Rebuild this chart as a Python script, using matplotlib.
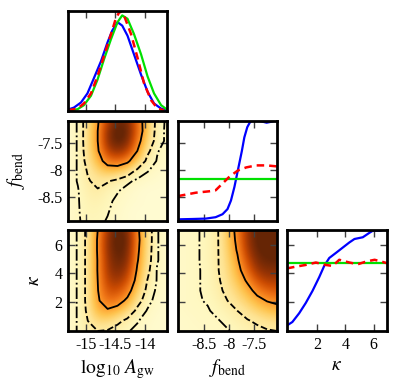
import numpy as np
import matplotlib
matplotlib.use("Agg")
import matplotlib.pyplot as plt

plt.rcParams['font.family'] = 'serif'
plt.rcParams['font.serif'] = ['Liberation Serif', 'DejaVu Serif']
plt.rcParams['mathtext.fontset'] = 'stix'
plt.rcParams['axes.unicode_minus'] = False

# axis ranges and ticks
agw_lim = [-15.3, -13.62]
fb_xlim = [-9.03, -7.03]
fb_ylim = [-8.95, -7.1]
kap_xlim = [-0.15, 6.95]
kap_ylim = [-0.05, 7.05]
agw_ticks = [-15, -14.5, -14]
agw_labels = ['-15', '-14.5', '-14']
fb_ticks = [-8.5, -8, -7.5]
fb_labels = ['-8.5', '-8', '-7.5']
kap_ticks = [2, 4, 6]
kap_labels = ['2', '4', '6']

# 1D marginal of log10 A_gw (x in dex, height as fraction of panel)
agw_blue_x = [-15.30, -15.20, -15.08, -14.97, -14.86, -14.74, -14.63, -14.55, -14.46, -14.38, -14.29, -14.18, -14.06, -13.95, -13.84, -13.72, -13.62]
agw_blue_y = [0.014, 0.034, 0.085, 0.176, 0.329, 0.498, 0.685, 0.803, 0.888, 0.854, 0.753, 0.566, 0.363, 0.193, 0.075, 0.024, 0.007]
agw_green_x = [-15.30, -15.14, -15.03, -14.91, -14.80, -14.69, -14.57, -14.46, -14.38, -14.29, -14.18, -14.06, -13.95, -13.84, -13.72, -13.62]
agw_green_y = [0.007, 0.017, 0.058, 0.153, 0.312, 0.515, 0.719, 0.888, 0.956, 0.922, 0.769, 0.566, 0.346, 0.176, 0.058, 0.014]
agw_red_x = [-15.30, -15.14, -15.03, -14.91, -14.80, -14.69, -14.57, -14.49, -14.42, -14.35, -14.23, -14.12, -14.01, -13.89, -13.78, -13.67]
agw_red_y = [0.007, 0.024, 0.075, 0.176, 0.346, 0.549, 0.769, 0.922, 1.0, 0.956, 0.769, 0.532, 0.278, 0.108, 0.024, 0.007]

# f_bend panel
fb_blue_x = [-9.0, -8.74, -8.47, -8.27, -8.13, -8.03, -7.96, -7.89, -7.84, -7.79, -7.74, -7.69, -7.63, -7.57, -7.48, -7.35, -7.24, -7.14, -7.03]
fb_blue_y = [0.017, 0.020, 0.024, 0.038, 0.068, 0.119, 0.205, 0.341, 0.461, 0.580, 0.700, 0.836, 0.939, 0.993, 1.01, 0.997, 0.983, 0.993, 1.01]
fb_red_x = [-9.03, -8.67, -8.40, -8.27, -8.13, -7.99, -7.82, -7.65, -7.45, -7.24, -7.03]
fb_red_y = [0.249, 0.283, 0.297, 0.307, 0.375, 0.444, 0.505, 0.536, 0.556, 0.556, 0.546]
fb_green_x = [-9.03, -7.03]
fb_green_y = [0.423, 0.423]

# kappa panel
kap_blue_x = [-0.15, 0.23, 0.71, 1.18, 1.66, 2.14, 2.49, 2.85, 3.33, 3.80, 4.28, 4.64, 5.23, 5.71, 5.95, 6.42, 6.95]
kap_blue_y = [0.055, 0.089, 0.175, 0.277, 0.397, 0.534, 0.644, 0.723, 0.774, 0.825, 0.877, 0.911, 0.928, 0.973, 0.993, 0.993, 1.01]
kap_red_x = [-0.15, 0.47, 1.18, 1.90, 2.61, 3.09, 3.56, 4.28, 4.88, 5.47, 6.07, 6.55, 6.95]
kap_red_y = [0.620, 0.637, 0.654, 0.678, 0.654, 0.644, 0.705, 0.678, 0.661, 0.688, 0.705, 0.688, 0.671]
kap_green_x = [-0.15, 6.95]
kap_green_y = [0.671, 0.671]

# 2D densities on 11x11 nodes spanning each panel, rows listed top to bottom
dens_agw_fb = [
    [0.03, 0.07, 0.22, 0.42, 0.75, 0.92, 0.90, 0.60, 0.30, 0.11, 0.05],
    [0.03, 0.07, 0.22, 0.45, 0.85, 1.00, 0.95, 0.62, 0.30, 0.10, 0.05],
    [0.03, 0.07, 0.22, 0.45, 0.85, 0.98, 0.90, 0.55, 0.25, 0.10, 0.05],
    [0.03, 0.07, 0.21, 0.42, 0.75, 0.85, 0.75, 0.45, 0.18, 0.07, 0.04],
    [0.03, 0.07, 0.19, 0.35, 0.55, 0.60, 0.50, 0.28, 0.12, 0.06, 0.03],
    [0.03, 0.07, 0.16, 0.25, 0.32, 0.30, 0.22, 0.12, 0.07, 0.04, 0.02],
    [0.03, 0.07, 0.14, 0.18, 0.16, 0.12, 0.08, 0.05, 0.03, 0.02, 0.01],
    [0.03, 0.06, 0.12, 0.14, 0.10, 0.07, 0.04, 0.02, 0.01, 0.01, 0.01],
    [0.03, 0.06, 0.10, 0.11, 0.08, 0.05, 0.03, 0.02, 0.01, 0.01, 0.01],
    [0.03, 0.06, 0.09, 0.09, 0.07, 0.04, 0.02, 0.01, 0.01, 0.01, 0.01],
    [0.03, 0.06, 0.08, 0.08, 0.06, 0.03, 0.02, 0.01, 0.01, 0.01, 0.01],
]
dens_agw_kap = [
    [0.03, 0.07, 0.18, 0.45, 0.80, 0.95, 0.90, 0.50, 0.22, 0.07, 0.03],
    [0.03, 0.07, 0.18, 0.47, 0.85, 1.00, 0.95, 0.52, 0.22, 0.07, 0.03],
    [0.03, 0.07, 0.18, 0.47, 0.85, 0.98, 0.92, 0.50, 0.21, 0.07, 0.03],
    [0.03, 0.07, 0.18, 0.46, 0.82, 0.95, 0.88, 0.47, 0.20, 0.07, 0.03],
    [0.03, 0.07, 0.18, 0.46, 0.80, 0.90, 0.80, 0.42, 0.18, 0.06, 0.03],
    [0.03, 0.07, 0.18, 0.45, 0.75, 0.82, 0.70, 0.36, 0.15, 0.06, 0.03],
    [0.03, 0.07, 0.18, 0.44, 0.68, 0.70, 0.55, 0.28, 0.12, 0.05, 0.02],
    [0.03, 0.07, 0.18, 0.42, 0.58, 0.55, 0.40, 0.20, 0.09, 0.04, 0.02],
    [0.03, 0.07, 0.17, 0.36, 0.42, 0.35, 0.24, 0.12, 0.06, 0.03, 0.02],
    [0.03, 0.07, 0.15, 0.24, 0.24, 0.18, 0.12, 0.07, 0.04, 0.02, 0.02],
    [0.03, 0.07, 0.12, 0.15, 0.14, 0.10, 0.07, 0.05, 0.03, 0.02, 0.02],
]
dens_fb_kap = [
    [0.04, 0.05, 0.06, 0.09, 0.14, 0.30, 0.52, 0.82, 0.95, 1.00, 1.00],
    [0.04, 0.05, 0.06, 0.09, 0.14, 0.29, 0.50, 0.82, 0.97, 1.00, 1.00],
    [0.04, 0.05, 0.06, 0.09, 0.14, 0.27, 0.47, 0.78, 0.95, 0.98, 0.98],
    [0.04, 0.05, 0.06, 0.09, 0.14, 0.25, 0.42, 0.70, 0.90, 0.95, 0.95],
    [0.04, 0.05, 0.06, 0.08, 0.14, 0.23, 0.37, 0.60, 0.82, 0.88, 0.88],
    [0.04, 0.05, 0.06, 0.08, 0.13, 0.21, 0.32, 0.48, 0.68, 0.78, 0.78],
    [0.04, 0.05, 0.06, 0.08, 0.12, 0.18, 0.26, 0.37, 0.52, 0.62, 0.66],
    [0.04, 0.05, 0.06, 0.07, 0.10, 0.15, 0.21, 0.28, 0.38, 0.46, 0.50],
    [0.04, 0.05, 0.05, 0.06, 0.08, 0.11, 0.15, 0.20, 0.26, 0.32, 0.36],
    [0.03, 0.04, 0.05, 0.05, 0.06, 0.08, 0.11, 0.14, 0.17, 0.20, 0.22],
    [0.03, 0.04, 0.04, 0.05, 0.05, 0.06, 0.08, 0.10, 0.12, 0.14, 0.15],
]
levels = [0.065, 0.15, 0.45]
styles = ['dashdot', 'dashed', 'solid']

W, H = 400, 390
fig = plt.figure(figsize=(W / 100, H / 100), dpi=100)


def panel(px, py, pw=99, ph=100):
    ax = fig.add_axes([px / W, 1 - (py + ph) / H, pw / W, ph / H])
    for s in ax.spines.values():
        s.set_linewidth(2.0)
    ax.tick_params(direction='in', top=True, right=True, length=5, width=1,
                   labelsize=11.5, pad=4, color='0.25')
    return ax


def density(ax, grid, xlim, ylim):
    z = np.array(grid)
    n = z.shape[0]
    dx = (xlim[1] - xlim[0]) / (n - 1)
    dy = (ylim[1] - ylim[0]) / (n - 1)
    ax.imshow(z, origin='upper', aspect='auto', interpolation='bicubic', cmap='YlOrBr',
              vmin=-0.05, vmax=0.95,
              extent=[xlim[0] - dx / 2, xlim[1] + dx / 2, ylim[0] - dy / 2, ylim[1] + dy / 2])
    xs = np.linspace(xlim[0], xlim[1], n)
    ys = np.linspace(ylim[0], ylim[1], n)
    ax.contour(xs, ys, np.flipud(z), levels=levels, colors='k', linewidths=1.3,
               linestyles=styles)
    ax.set_xlim(xlim)
    ax.set_ylim(ylim)


cols = [68, 178, 287]
rows = [11, 121, 230]

# top: A_gw marginal
ax = panel(cols[0], rows[0])
ax.plot(agw_blue_x, agw_blue_y, color='#0000ff', lw=1.6)
ax.plot(agw_green_x, agw_green_y, color='#00e000', lw=1.6)
ax.plot(agw_red_x, agw_red_y, color='#ff0000', lw=1.8, ls=(0, (3, 2)))
ax.set_xlim(agw_lim)
ax.set_ylim(0, 1.0)
ax.set_xticks(agw_ticks)
ax.set_xticklabels([])
ax.set_yticks([])

# middle row
ax = panel(cols[0], rows[1])
density(ax, dens_agw_fb, agw_lim, fb_ylim)
ax.set_xticks(agw_ticks)
ax.set_xticklabels([])
ax.set_yticks(fb_ticks)
ax.set_yticklabels(fb_labels)
ax.set_ylabel(r'$f_{\rm bend}$', fontsize=14, labelpad=7)

ax = panel(cols[1], rows[1])
ax.plot(fb_blue_x, fb_blue_y, color='#0000ff', lw=1.6)
ax.plot(fb_green_x, fb_green_y, color='#00e000', lw=1.6)
ax.plot(fb_red_x, fb_red_y, color='#ff0000', lw=1.8, ls=(0, (3, 2)))
ax.set_xlim(fb_xlim)
ax.set_ylim(0, 1)
ax.set_xticks(fb_ticks)
ax.set_xticklabels([])
ax.set_yticks([(t - fb_ylim[0]) / (fb_ylim[1] - fb_ylim[0]) for t in fb_ticks])
ax.set_yticklabels([])

# bottom row
ax = panel(cols[0], rows[2], ph=101)
density(ax, dens_agw_kap, agw_lim, kap_ylim)
ax.set_xticks(agw_ticks)
ax.set_xticklabels(agw_labels)
ax.set_yticks(kap_ticks)
ax.set_yticklabels(kap_labels)
ax.set_xlabel(r'$\log_{10}\,A_{\rm gw}$', fontsize=14, labelpad=3)
ax.set_ylabel(r'$\kappa$', fontsize=14, labelpad=8)

ax = panel(cols[1], rows[2], ph=101)
density(ax, dens_fb_kap, fb_xlim, kap_ylim)
ax.set_xticks(fb_ticks)
ax.set_xticklabels(fb_labels)
ax.set_yticks(kap_ticks)
ax.set_yticklabels([])
ax.set_xlabel(r'$f_{\rm bend}$', fontsize=14, labelpad=3)

ax = panel(cols[2], rows[2], pw=100, ph=101)
ax.plot(kap_blue_x, kap_blue_y, color='#0000ff', lw=1.6)
ax.plot(kap_green_x, kap_green_y, color='#00e000', lw=1.6)
ax.plot(kap_red_x, kap_red_y, color='#ff0000', lw=1.8, ls=(0, (3, 2)))
ax.set_xlim(kap_xlim)
ax.set_ylim(0, 1)
ax.set_xticks(kap_ticks)
ax.set_xticklabels(kap_labels)
ax.set_yticks([(t - kap_ylim[0]) / (kap_ylim[1] - kap_ylim[0]) for t in kap_ticks])
ax.set_yticklabels([])
ax.set_xlabel(r'$\kappa$', fontsize=14, labelpad=3)

fig.savefig('out.png', dpi=100)
